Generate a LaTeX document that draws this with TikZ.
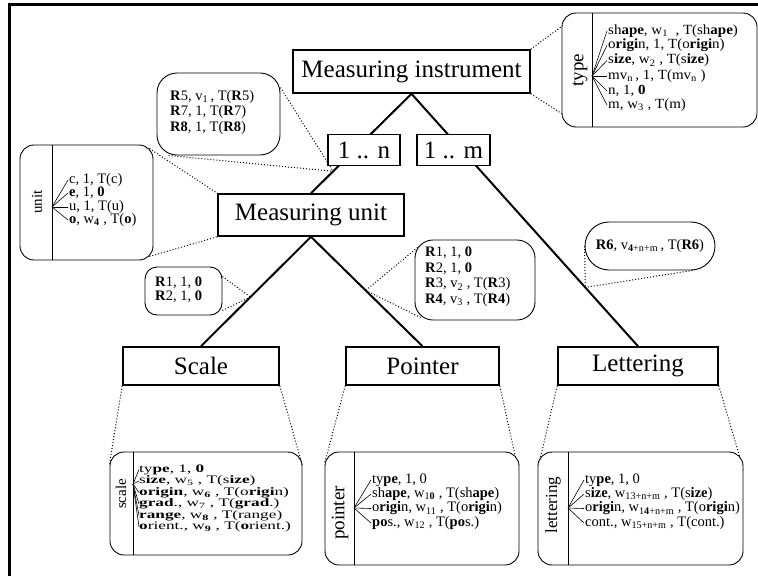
\documentclass[tikz,border=0pt]{standalone}
\usepackage{fontspec}
\setmainfont{Liberation Serif}
\newfontfamily\widerm[FakeStretch=1.07]{Liberation Serif}
\newfontfamily\widerscale[FakeStretch=1.5]{Liberation Serif}
\usetikzlibrary{calc,backgrounds}
\begin{document}
\begin{tikzpicture}[x=1pt,y=-1pt,
  mainbox/.style={draw,line width=1.6pt,fill=white,inner sep=0pt,font=\fontsize{25}{28}\selectfont},
  tree/.style={line width=2pt},
  attrbox/.style={draw,line width=0.9pt,rounded corners=14pt,fill=white,inner sep=0pt},
  callout/.style={draw,line width=0.9pt,fill=white,inner sep=0pt},
  tail/.style={dotted,line width=1pt},
  row/.style={anchor=west,inner sep=1pt,font=\fontsize{14.5}{16}\selectfont},
  typerow/.style={row,font=\widerm\fontsize{14}{15}\selectfont},
  scalerow/.style={row,inner sep=0pt,font=\widerscale\fontsize{11.5}{12}\selectfont},
  fan/.style={line width=0.6pt},
  divider/.style={line width=0.9pt},
  vlabel/.style={rotate=90,inner sep=0pt},
]
\useasboundingbox (0,0) rectangle (758,576);
% frame
\draw[line width=3pt] (9,576) -- (9,4) -- (758,4);

% main tree nodes
\node[mainbox,minimum width=237pt,minimum height=43pt] (mi) at (411.5,71.5) {Measuring instrument};
\node[mainbox,minimum width=72pt,minimum height=31pt] (n1) at (364,150) {1 .. n};
\node[mainbox,minimum width=73pt,minimum height=31pt] (m1) at (453.5,150) {1 .. m};
\node[mainbox,minimum width=186pt,minimum height=42pt] (mu) at (311,215) {Measuring unit};
\node[mainbox,minimum width=156pt,minimum height=38pt] (sc) at (201,366) {Scale};
\node[mainbox,minimum width=153pt,minimum height=38pt] (po) at (422.5,366) {Pointer};
\node[mainbox,minimum width=160pt,minimum height=38pt] (le) at (638,366) {Lettering};

% ---------- type box ----------
\node[attrbox,minimum width=195pt,minimum height=114pt] (tb) at (659.5,70) {};
\draw[divider] (592,13) -- (592,127);
\node[vlabel,font=\fontsize{19}{21}\selectfont] (tbl) at (580,70) {type};
\coordinate (tba) at (592,76);
\node[typerow] (ty1) at (607,31) {sh\textbf{ape}, w\textsubscript{1}\ \ , T(sh\textbf{ape})};
\node[typerow] (ty2) at (607,45.5) {o\textbf{rigi}n, 1, T(o\textbf{rigi}n)};
\node[typerow] (ty3) at (607,60.5) {s\textbf{ize}, w\textsubscript{2}\ , T(s\textbf{ize})};
\node[typerow] (ty4) at (607,76) {mv\textsubscript{n}\,, 1, T(mv\textsubscript{n}\ )};
\node[typerow] (ty5) at (607,91) {n, 1, \textbf{0}};
\node[typerow] (ty6) at (607,105) {m, w\textsubscript{3}\ , T(m)};
\foreach \r in {ty1,ty2,ty3,ty4,ty5,ty6} \draw[fan] (tba) -- (\r.west);

% ---------- unit box ----------
\node[attrbox,minimum width=133pt,minimum height=115pt] (ub) at (86.5,202.5) {};
\draw[divider] (52,145) -- (52,260);
\node[vlabel,font=\fontsize{15}{17}\selectfont] (ubl) at (37,202) {unit};
\coordinate (uba) at (52,207);
\node[row] (un1) at (68,180) {c, 1, T(c)};
\node[row] (un2) at (68,193) {\textbf{e}, 1, \textbf{0}};
\node[row] (un3) at (68,207) {u, 1, T(u)};
\node[row] (un4) at (68,220) {\textbf{o}, w\textsubscript{\textbf{4}}\ , T(\textbf{o})};
\foreach \r in {un1,un2,un3,un4} \draw[fan] (uba) -- (\r.west);

% ---------- callouts ----------
\node[callout,rounded corners=20pt,minimum width=123pt,minimum height=82pt] (r5) at (218.5,114) {};
\node[row] (r5a) at (169,97) {\textbf{R}5, v\textsubscript{1}\,, T(\textbf{R}5)};
\node[row] (r5b) at (169,112.5) {\textbf{R}7, 1, T(\textbf{R}7)};
\node[row] (r5c) at (169,128) {\textbf{R8}, 1, T(\textbf{R8})};

\node[callout,rounded corners=12pt,minimum width=77pt,minimum height=48pt] (r12) at (183.5,291) {};
\node[row] (r12a) at (154,283) {\textbf{R}1, 1, \textbf{0}};
\node[row] (r12b) at (154,297) {\textbf{R}2, 1, \textbf{0}};

\node[callout,rounded corners=18pt,minimum width=120pt,minimum height=80pt] (r14) at (475,280) {};
\node[row] (r14a) at (424,253) {\textbf{R}1, 1, \textbf{0}};
\node[row] (r14b) at (424,268.5) {\textbf{R}2, 1, \textbf{0}};
\node[row] (r14c) at (424,284.5) {\textbf{R}3, v\textsubscript{2}\ , T(\textbf{R}3)};
\node[row] (r14d) at (424,300) {\textbf{R4}, v\textsubscript{3}\ , T(\textbf{R4})};

\node[callout,rounded corners=24pt,minimum width=130pt,minimum height=48pt,font=\fontsize{14.5}{16}\selectfont] (r6) at (650,246) {\textbf{R6}, v\textsubscript{\textbf{4}+n+m}\,, T(\textbf{R6})};

% ---------- scale box ----------
\node[attrbox,minimum width=192pt,minimum height=103pt] (sa) at (206,503.5) {};
\draw[divider] (133,452) -- (133,555);
\node[vlabel,font=\fontsize{15}{17}\selectfont] (sal) at (121,494) {scale};
\coordinate (saa) at (133,484);
\node[scalerow] (sc1) at (139,469.5) {ty\textbf{pe}, 1, \textbf{0}};
\node[scalerow] (sc2) at (139,481) {s\textbf{ize}, w\textsubscript{5}\ , T(s\textbf{ize})};
\node[scalerow] (sc3) at (139,492.5) {\textbf{origin}, w\textsubscript{\textbf{6}}\ , T(o\textbf{rigi}n)};
\node[scalerow] (sc4) at (139,504) {\textbf{grad}., w\textsubscript{7}\ , T(\textbf{grad}.)};
\node[scalerow] (sc5) at (139,515.5) {\textbf{range}, w\textsubscript{\textbf{8}}\ , T(range)};
\node[scalerow] (sc6) at (139,527) {\textbf{o}rient., w\textsubscript{\textbf{9}}\ , T(\textbf{o}rient.)};
\foreach \r in {sc1,sc2,sc3,sc4,sc5,sc6} \draw[fan] (saa) -- (\r.west);

% ---------- pointer box ----------
\node[attrbox,minimum width=194pt,minimum height=113pt] (pa) at (422,508.5) {};
\draw[divider] (354,452) -- (354,565);
\node[vlabel,font=\fontsize{19}{21}\selectfont] (pal) at (340,513) {pointer};
\coordinate (paa) at (354,508);
\node[row] (pt1) at (371,480) {ty\textbf{pe}, 1, 0};
\node[row] (pt2) at (371,494) {sh\textbf{ape}, w\textsubscript{1\textbf{0}}\ , T(sh\textbf{ape})};
\node[row] (pt3) at (371,508.5) {o\textbf{rigi}n, w\textsubscript{11}\ , T(o\textbf{rigi}n)};
\node[row] (pt4) at (371,523) {\textbf{po}s., w\textsubscript{12}\ , T(\textbf{po}s.)};
\foreach \r in {pt1,pt2,pt3,pt4} \draw[fan] (paa) -- (\r.west);

% ---------- lettering box ----------
\node[attrbox,minimum width=205pt,minimum height=113pt] (la) at (640.5,508.5) {};
\draw[divider] (568,452) -- (568,565);
\node[vlabel,font=\fontsize{17}{19}\selectfont] (lal) at (553,505) {lettering};
\coordinate (laa) at (568,508);
\node[row] (lt1) at (584,480) {ty\textbf{pe}, 1, 0};
\node[row] (lt2) at (584,494) {s\textbf{ize}, w\textsubscript{13+n+m}\ , T(s\textbf{ize})};
\node[row] (lt3) at (584,508.5) {o\textbf{rigi}n, w\textsubscript{1\textbf{4}+n+m}\ , T(o\textbf{rigi}n)};
\node[row] (lt4) at (584,523) {cont., w\textsubscript{15+n+m}\ , T(cont.)};
\foreach \r in {lt1,lt2,lt3,lt4} \draw[fan] (laa) -- (\r.west);

% ---------- connectors (behind) ----------
\begin{pgfonlayer}{background}
\fill[white] (0,0) rectangle (758,576);
\draw[tree] (mi.south) -- (mu.north);
\draw[tree] (mi.south) -- (le.north);
\draw[tree] (mu.south) -- (sc.north);
\draw[tree] (mu.south) -- (po.north);
\coordinate (t5) at ($(mi.south)!0.78!(mu.north)$);
\coordinate (t12) at ($(mu.south)!0.55!(sc.north)$);
\coordinate (t14) at ($(mu.south)!0.49!(po.north)$);
\coordinate (t6) at ($(mi.south)!0.767!(le.north)$);
\draw[tail] (mi.north east) -- ([yshift=-14pt]tb.north west);
\draw[tail] (mi.south east) -- ([yshift=14pt]tb.south west);
\draw[tail] ([xshift=-4pt,yshift=-4pt]ub.north east) -- (mu.north west);
\draw[tail] ([xshift=-4pt,yshift=4pt]ub.south east) -- (mu.south west);
\draw[tail] ([yshift=-15pt]r5.north east) -- (t5);
\draw[tail] ([xshift=12pt]r5.south west) -- (t5);
\draw[tail] ([yshift=-10pt]r12.north east) -- (t12);
\draw[tail] ([yshift=5pt]r12.south east) -- (t12);
\draw[tail] ([xshift=3pt,yshift=-8pt]r14.north west) -- (t14);
\draw[tail] ([xshift=6pt,yshift=3pt]r14.south west) -- (t14);
\draw[tail] (r6.west) -- (t6);
\draw[tail] ([xshift=-23pt]r6.south east) -- (t6);
\draw[tail] (sc.south west) -- ([yshift=-12pt]sa.north west);
\draw[tail] (sc.south east) -- ([yshift=-14pt]sa.north east);
\draw[tail] (po.south west) -- ([yshift=-12pt]pa.north west);
\draw[tail] (po.south east) -- ([xshift=-3pt,yshift=-10pt]pa.north east);
\draw[tail] (le.south west) -- ([xshift=2pt,yshift=-10pt]la.north west);
\draw[tail] (le.south east) -- ([yshift=-18pt]la.north east);
\end{pgfonlayer}
\end{tikzpicture}
\end{document}
